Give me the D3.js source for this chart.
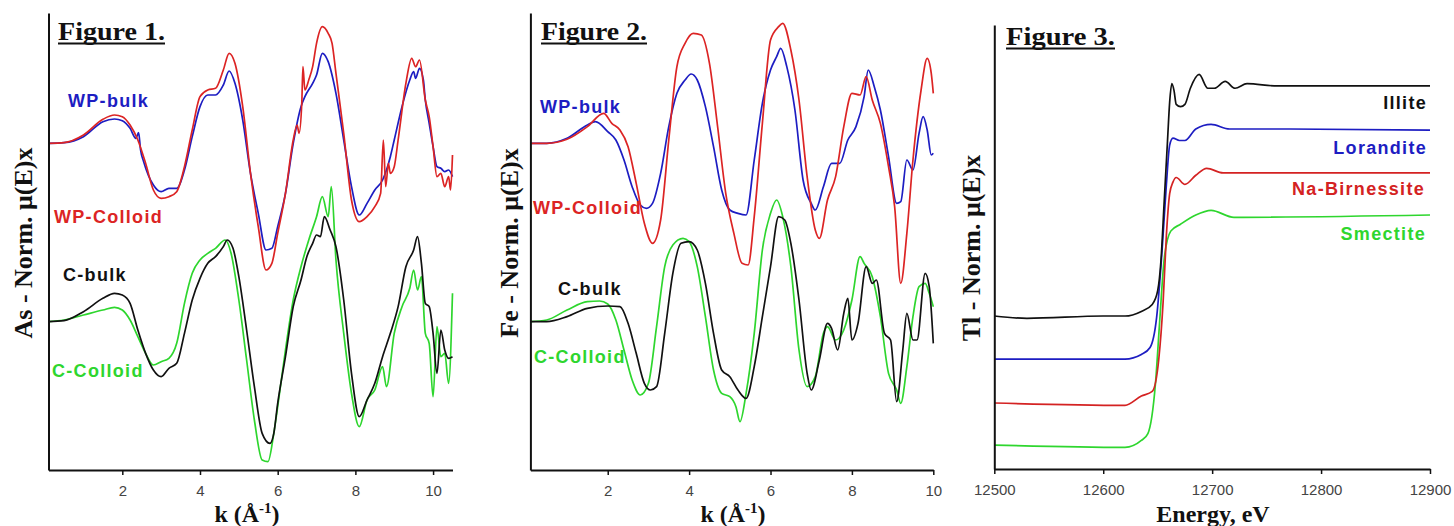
<!DOCTYPE html>
<html lang="en">
<head>
<meta charset="UTF-8" />
<title>XAS spectra</title>
<style>
  body { margin: 0; background: #fff; }
  svg { display: block; }
</style>
</head>
<body>
<script src="https://d3js.org/d3.v7.min.js"></script>
<script>
const width = 1454;
const height = 526;

// Figure 1: As EXAFS, [k, chi] pairs (arbitrary units)
const asWpBulk = [[0.1,0],[0.5,0.02],[1.0,0.2],[1.5,0.65],[1.8,0.73],[2.0,0.68],[2.2,0.45],[2.35,0.15],[2.42,0.32],[2.47,-0.2],[2.55,-0.55],[2.8,-1.25],[3.0,-1.45],[3.2,-1.35],[3.4,-1.35],[3.6,-0.8],[3.8,0.2],[4.0,1.1],[4.2,1.45],[4.4,1.45],[4.6,1.75],[4.75,2.17],[4.9,1.8],[5.1,0.7],[5.3,-0.9],[5.5,-2.1],[5.7,-3.2],[5.85,-3.15],[6.0,-2.5],[6.2,-1.5],[6.4,0.0],[6.6,1.1],[6.7,1.4],[6.9,1.8],[7.0,2.05],[7.15,2.7],[7.3,2.45],[7.5,1.5],[7.7,0.1],[7.9,-1.3],[8.1,-2.15],[8.3,-1.8],[8.5,-1.4],[8.7,-1.1],[8.9,-0.4],[9.0,0.1],[9.2,1.1],[9.4,1.9],[9.5,2.15],[9.55,1.95],[9.65,2.25],[9.75,1.9],[9.8,1.3],[9.9,0.6],[10.0,-0.1],[10.1,-0.7],[10.2,-0.75],[10.3,-0.85],[10.4,-0.8],[10.5,-1.0]];
const asWpColloid = [[0.1,0],[0.5,0.02],[1.0,0.25],[1.5,0.72],[1.8,0.85],[2.0,0.8],[2.2,0.55],[2.4,0.1],[2.6,-0.6],[2.8,-1.4],[3.0,-1.65],[3.2,-1.6],[3.4,-1.45],[3.6,-0.7],[3.8,0.4],[4.0,1.4],[4.2,1.6],[4.4,1.65],[4.6,2.2],[4.75,2.7],[4.9,2.4],[5.1,1.1],[5.3,-0.9],[5.5,-2.5],[5.7,-3.8],[5.85,-3.6],[6.0,-2.7],[6.2,-1.5],[6.4,0.1],[6.5,0.55],[6.55,0.3],[6.62,1.2],[6.65,2.3],[6.7,1.6],[6.8,1.9],[6.9,2.3],[7.0,3.0],[7.15,3.5],[7.3,3.3],[7.4,3.0],[7.5,2.1],[7.7,0.3],[7.9,-1.7],[8.1,-2.35],[8.3,-2.2],[8.5,-1.9],[8.65,-1.5],[8.72,0.1],[8.78,-1.3],[8.85,-0.6],[8.9,-0.9],[9.0,-0.7],[9.1,0.1],[9.3,1.8],[9.45,2.55],[9.55,2.3],[9.65,2.5],[9.8,1.3],[9.9,0.8],[10.0,-0.1],[10.1,-1.0],[10.2,-0.9],[10.3,-1.3],[10.4,-1.0],[10.45,-1.4],[10.5,-0.35]];
const asCBulk = [[0.1,0],[0.5,0.03],[1.0,0.3],[1.5,0.7],[1.8,0.85],[2.0,0.8],[2.2,0.55],[2.4,-0.25],[2.6,-0.95],[2.8,-1.45],[3.0,-1.65],[3.2,-1.4],[3.4,-1.25],[3.6,-0.35],[3.8,0.65],[4.0,1.3],[4.2,1.75],[4.4,1.95],[4.6,2.25],[4.7,2.45],[4.85,2.2],[5.0,1.35],[5.2,-0.25],[5.4,-1.95],[5.6,-3.35],[5.8,-3.65],[5.9,-3.35],[6.0,-2.45],[6.2,-1.05],[6.4,0.45],[6.6,1.25],[6.75,1.95],[6.9,2.35],[7.0,2.6],[7.1,2.55],[7.2,3.15],[7.35,2.75],[7.5,2.25],[7.7,0.65],[7.9,-1.55],[8.1,-2.85],[8.3,-2.35],[8.5,-1.85],[8.7,-1.05],[8.9,-0.35],[9.1,0.45],[9.3,1.65],[9.5,2.15],[9.6,2.55],[9.7,1.75],[9.8,0.55],[9.9,0.45],[10.0,-0.35],[10.1,-1.55],[10.2,-0.25],[10.3,-0.85],[10.4,-1.1],[10.5,-1.05]];
const asCColloid = [[0.1,0],[0.5,0.05],[1.0,0.2],[1.5,0.35],[1.8,0.43],[2.0,0.35],[2.2,0.05],[2.4,-0.45],[2.6,-0.95],[2.8,-1.3],[3.0,-1.2],[3.2,-1.1],[3.4,-0.65],[3.6,0.55],[3.8,1.45],[4.0,1.85],[4.2,2.05],[4.4,2.2],[4.65,2.45],[4.8,2.05],[5.0,0.65],[5.2,-1.15],[5.4,-2.95],[5.6,-4.15],[5.75,-4.2],[5.9,-3.35],[6.0,-2.55],[6.2,-0.85],[6.4,0.65],[6.6,1.65],[6.8,2.45],[7.0,3.15],[7.15,3.75],[7.3,3.15],[7.38,4.05],[7.5,1.85],[7.7,-0.35],[7.9,-2.15],[8.1,-3.15],[8.3,-2.35],[8.5,-2.05],[8.7,-1.35],[8.8,-1.95],[9.0,-0.35],[9.2,0.45],[9.4,1.0],[9.5,1.55],[9.6,0.95],[9.7,1.35],[9.8,-0.35],[9.9,-0.65],[10.0,-2.25],[10.1,-0.15],[10.2,-1.05],[10.3,-0.95],[10.4,-1.85],[10.5,0.85]];

// Figure 2: Fe EXAFS
const feWpBulk = [[0.1,0],[0.5,0],[1.0,0.15],[1.5,0.55],[1.7,0.65],[2.0,0.35],[2.2,0.1],[2.4,-0.5],[2.6,-1.3],[2.8,-1.85],[2.95,-1.95],[3.1,-1.8],[3.3,-0.9],[3.5,0.5],[3.7,1.5],[3.9,1.9],[4.05,2.08],[4.2,1.9],[4.4,1.1],[4.6,-0.1],[4.8,-1.4],[5.0,-2.0],[5.2,-2.1],[5.4,-2.15],[5.6,-0.5],[5.8,1.2],[6.0,2.2],[6.15,2.6],[6.25,2.85],[6.4,2.3],[6.6,1.0],[6.8,-1.1],[7.0,-1.8],[7.1,-2.0],[7.3,-1.3],[7.5,-0.6],[7.7,-0.6],[7.9,0.1],[8.1,0.5],[8.3,1.4],[8.4,2.2],[8.55,1.7],[8.7,1.0],[8.9,-0.4],[9.1,-1.8],[9.2,-1.75],[9.35,-0.5],[9.5,-0.8],[9.65,0.3],[9.75,0.8],[9.85,0.4],[9.95,-0.35],[10.0,-0.3]];
const feWpColloid = [[0.1,0],[0.5,0],[1.0,0.12],[1.5,0.5],[1.9,0.9],[2.1,0.6],[2.3,0.4],[2.5,-0.1],[2.7,-1.2],[2.9,-2.4],[3.1,-3.0],[3.3,-2.3],[3.5,0.1],[3.7,2.3],[3.9,3.0],[4.1,3.3],[4.3,3.25],[4.5,2.4],[4.7,0.5],[4.9,-1.5],[5.1,-2.7],[5.3,-3.6],[5.45,-3.65],[5.6,-2.2],[5.8,0.6],[6.0,3.1],[6.2,3.5],[6.3,3.6],[6.5,2.8],[6.7,1.3],[6.9,-1.0],[7.1,-2.6],[7.2,-2.85],[7.4,-1.7],[7.6,-1.0],[7.8,0.5],[8.0,1.5],[8.2,1.45],[8.35,2.0],[8.5,1.3],[8.7,0.6],[8.9,-0.7],[9.05,-1.9],[9.2,-4.2],[9.35,-2.7],[9.5,-0.5],[9.7,1.6],[9.85,2.55],[9.95,2.1],[10.0,1.5]];
const feCBulk = [[0.1,0],[0.5,0],[1.0,0.15],[1.5,0.4],[2.0,0.47],[2.3,0.45],[2.5,-0.05],[2.7,-0.95],[2.9,-1.85],[3.05,-2.05],[3.2,-1.95],[3.4,-0.35],[3.6,1.45],[3.8,2.35],[4.0,2.4],[4.2,2.15],[4.4,1.15],[4.6,-0.35],[4.8,-1.45],[5.0,-1.65],[5.2,-2.05],[5.4,-2.3],[5.6,-1.35],[5.8,0.15],[6.0,1.65],[6.2,3.15],[6.35,3.05],[6.5,2.35],[6.7,0.65],[6.9,-1.55],[7.0,-2.05],[7.2,-1.15],[7.4,-0.05],[7.5,-0.2],[7.65,-0.85],[7.8,0.25],[7.9,0.7],[8.0,-0.55],[8.15,-0.05],[8.35,1.65],[8.5,1.15],[8.6,1.25],[8.8,-0.35],[8.95,-0.55],[9.1,-2.4],[9.25,-0.85],[9.35,0.25],[9.5,-0.55],[9.6,-0.55],[9.8,1.45],[9.9,1.05],[10.0,-0.65]];
const feCColloid = [[0.1,0],[0.5,0.05],[1.0,0.35],[1.5,0.6],[1.8,0.62],[2.0,0.53],[2.2,0.05],[2.4,-0.85],[2.6,-1.75],[2.8,-2.2],[3.0,-1.85],[3.2,-0.15],[3.4,1.65],[3.6,2.3],[3.85,2.5],[4.0,2.4],[4.2,1.65],[4.4,0.15],[4.6,-1.45],[4.8,-2.15],[5.0,-2.25],[5.15,-2.55],[5.25,-3.0],[5.4,-2.15],[5.6,-0.35],[5.8,2.15],[6.0,3.25],[6.15,3.65],[6.3,3.15],[6.5,1.65],[6.7,-0.85],[6.9,-1.95],[7.1,-1.65],[7.3,-0.35],[7.4,-0.15],[7.6,-0.55],[7.8,-0.25],[8.0,0.65],[8.2,1.95],[8.3,1.75],[8.5,1.35],[8.7,0.15],[8.9,-1.55],[9.1,-2.05],[9.2,-2.45],[9.35,-1.35],[9.5,0.15],[9.65,1.05],[9.8,1.15],[9.9,0.85],[10.0,0.45]];

// Figure 3: Tl XANES, [energy, normalized mu] pairs
const tlIllite = [[12500,0],[12530,-0.01],[12600,0],[12620,0],[12635,0.02],[12645,0.05],[12650,0.11],[12653,0.24],[12656,0.5],[12659,0.76],[12661,0.93],[12663,1.01],[12665,0.98],[12667,0.92],[12671,0.91],[12675,0.92],[12680,0.99],[12688,1.05],[12696,0.99],[12702,0.99],[12712,1.02],[12721,0.99],[12732,1.01],[12760,1.0],[12800,1.0],[12900,1.0]];
const tlLorandite = [[12500,0],[12600,0],[12620,0],[12635,0.02],[12643,0.05],[12649,0.18],[12654,0.47],[12658,0.76],[12661,0.93],[12664,0.96],[12670,0.95],[12675,0.95],[12685,1.0],[12699,1.02],[12716,1.0],[12760,1.0],[12900,0.995]];
const tlBirnessite = [[12500,0],[12620,-0.01],[12635,0.03],[12645,0.05],[12651,0.19],[12655,0.44],[12658,0.73],[12661,0.91],[12664,0.96],[12667,0.98],[12675,0.95],[12685,0.99],[12695,1.02],[12710,1.0],[12900,1.0]];
const tlSmectite = [[12500,0],[12620,-0.01],[12635,0.02],[12641,0.05],[12648,0.27],[12652,0.55],[12656,0.81],[12662,0.93],[12671,0.96],[12685,1.0],[12699,1.02],[12720,0.99],[12900,1.0]];

const exafsNames = ["WP-bulk", "WP-Colloid", "C-bulk", "C-Colloid"];
const exafsOffsets = [9.8, 9.8, 4.45, 4.45];
const tlNames = ["Illite", "Lorandite", "Na-Birnessite", "Smectite"];
const tlOffsets = [0.665, 0.478, 0.287, 0.104];
const kTicks = [2, 4, 6, 8, 10];
const energyTicks = [12500, 12600, 12700, 12800, 12900];

const serif = "'Times New Roman', 'Liberation Serif', serif";
const sans = "Arial, 'Liberation Sans', sans-serif";
const exafsColors = ["#1d1dc2", "#dc2424", "#111111", "#2ed62e"];
const tlColors = ["#111111", "#1d1dc2", "#d42222", "#2ed62e"];

const svg = d3.select("body").append("svg")
  .attr("width", width)
  .attr("height", height);

const panels = [
  {
    title: "Figure 1.", titleX: 58, titleY: 40, titleW: 107,
    yLabel: "As - Norm. μ(E)x", yLabelX: 32, yLabelY: 243,
    xLabel: "k", xLabelX: 247,
    left: 48.5, right: 452.5, top: 13, bottom: 470,
    xDomain: [0.1, 10.5], yDomain: [0, 13.71], ticks: kTicks,
    series: [asWpBulk, asWpColloid, asCBulk, asCColloid],
    names: exafsNames, offsets: exafsOffsets, colors: exafsColors,
    order: [0, 1, 3, 2],
    labels: [[68, 106.5], [54, 222.5], [63, 281], [52, 376.5]], anchor: "start"
  },
  {
    title: "Figure 2.", titleX: 541, titleY: 40, titleW: 106,
    yLabel: "Fe - Norm. μ(E)x", yLabelX: 518, yLabelY: 243,
    xLabel: "k", xLabelX: 733,
    left: 530.4, right: 933.3, top: 13, bottom: 470,
    xDomain: [0.1, 10], yDomain: [0, 13.71], ticks: kTicks,
    series: [feWpBulk, feWpColloid, feCBulk, feCColloid],
    names: exafsNames, offsets: exafsOffsets, colors: exafsColors,
    order: [0, 1, 3, 2],
    labels: [[540, 112.5], [533, 214], [558, 295], [534, 362.5]], anchor: "start"
  },
  {
    title: "Figure 3.", titleX: 1006, titleY: 45, titleW: 109,
    yLabel: "Tl - Norm. μ(E)x", yLabelX: 980, yLabelY: 248,
    xLabel: "Energy, eV", xLabelX: 1213,
    left: 994.3, right: 1430, top: 25, bottom: 469,
    xDomain: [12500, 12900], yDomain: [0, 1.93], ticks: energyTicks,
    series: [tlIllite, tlLorandite, tlBirnessite, tlSmectite],
    names: tlNames, offsets: tlOffsets, colors: tlColors,
    order: [3, 2, 1, 0],
    labels: [[1427, 108.5], [1427, 153.5], [1425, 195], [1426, 240]], anchor: "end"
  }
];

panels.forEach(p => {
  const x = d3.scaleLinear().domain(p.xDomain).range([p.left, p.right]);
  const y = d3.scaleLinear().domain(p.yDomain).range([p.bottom, p.top]);
  const g = svg.append("g");

  // spectra
  p.order.forEach(i => {
    const off = p.offsets[i];
    const line = d3.line()
      .x(d => x(d[0]))
      .y(d => y(off + d[1]))
      .curve(d3.curveMonotoneX);
    g.append("path")
      .datum(p.series[i])
      .attr("d", line)
      .attr("fill", "none")
      .attr("stroke", p.colors[i])
      .attr("stroke-width", 1.7)
      .attr("stroke-linejoin", "round");
  });

  // axes
  const xAxis = g.append("g")
    .attr("transform", `translate(0,${p.bottom})`)
    .call(d3.axisBottom(x).tickValues(p.ticks).tickFormat(d3.format("d"))
      .tickSize(5).tickSizeOuter(0).tickPadding(10));
  xAxis.select(".domain").attr("stroke", "#111").attr("stroke-width", 2);
  xAxis.selectAll(".tick line").attr("stroke", "#111").attr("stroke-width", 1.5);
  xAxis.selectAll(".tick text")
    .attr("font-family", sans).attr("font-size", 15).attr("fill", "#444");

  const yAxis = g.append("g")
    .attr("transform", `translate(${p.left},0)`)
    .call(d3.axisLeft(y).tickValues([]).tickSizeOuter(0));
  yAxis.select(".domain").attr("stroke", "#111").attr("stroke-width", 2);

  // series labels
  p.labels.forEach((pos, i) => {
    g.append("text")
      .attr("x", pos[0]).attr("y", pos[1])
      .attr("text-anchor", p.anchor)
      .attr("font-family", sans).attr("font-weight", "bold")
      .attr("font-size", 18).attr("letter-spacing", 1.3)
      .attr("fill", p.colors[i])
      .text(p.names[i]);
  });

  // panel title, underlined
  g.append("text")
    .attr("x", p.titleX).attr("y", p.titleY)
    .attr("font-family", serif).attr("font-weight", "bold")
    .attr("font-size", 26).attr("fill", "#111")
    .attr("textLength", p.titleW).attr("lengthAdjust", "spacingAndGlyphs")
    .text(p.title);
  g.append("line")
    .attr("x1", p.titleX).attr("x2", p.titleX + p.titleW)
    .attr("y1", p.titleY + 3.5).attr("y2", p.titleY + 3.5)
    .attr("stroke", "#111").attr("stroke-width", 2);

  // y title
  g.append("text")
    .attr("transform", `translate(${p.yLabelX},${p.yLabelY}) rotate(-90)`)
    .attr("text-anchor", "middle")
    .attr("font-family", serif).attr("font-weight", "bold")
    .attr("font-size", 26).attr("fill", "#111")
    .text(p.yLabel);

  // x title
  const xl = g.append("text")
    .attr("x", p.xLabelX).attr("y", 522)
    .attr("text-anchor", "middle")
    .attr("font-family", serif).attr("font-weight", "bold")
    .attr("font-size", 24).attr("fill", "#111");
  if (p.xLabel === "k") {
    xl.append("tspan").text("k (Å");
    xl.append("tspan").attr("font-size", 15).attr("dy", -9).text("-1");
    xl.append("tspan").attr("dy", 9).text(")");
  } else {
    xl.text(p.xLabel);
  }
});
</script>
</body>
</html>
